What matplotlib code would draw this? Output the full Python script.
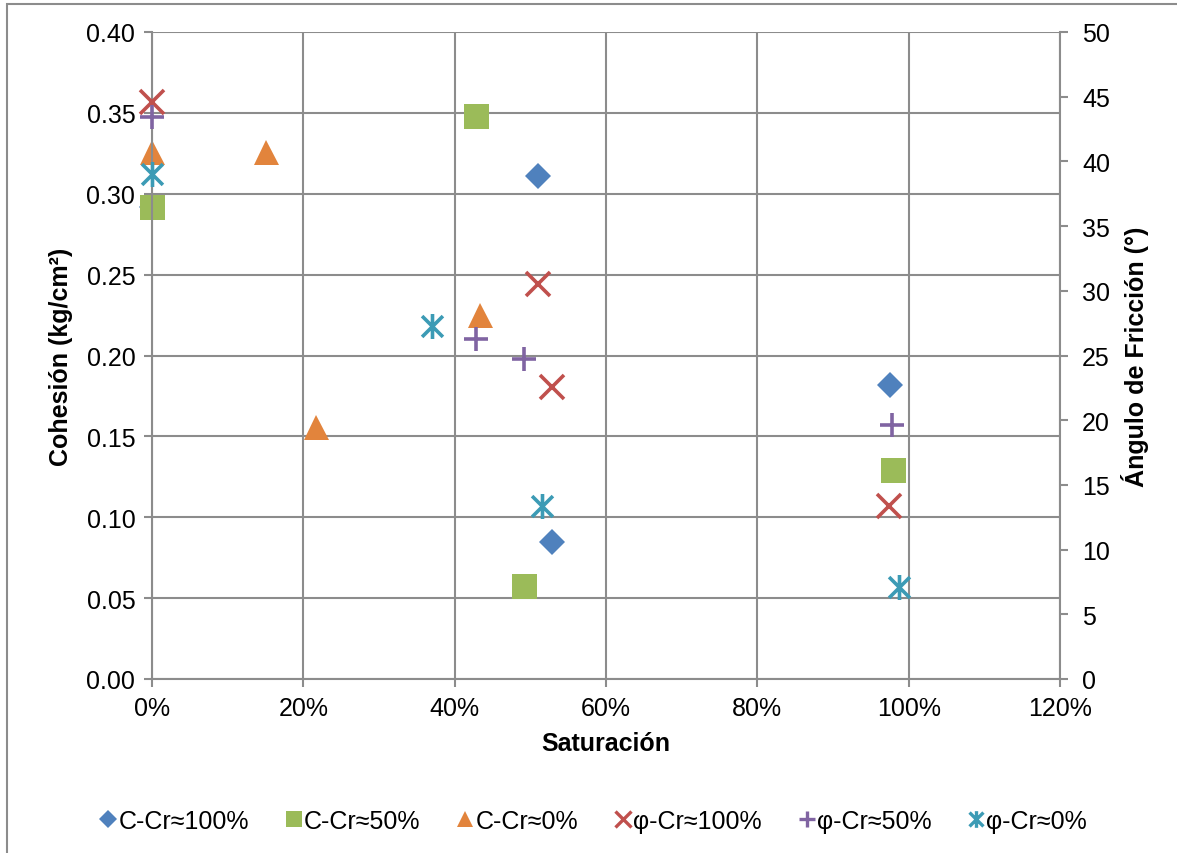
import matplotlib
matplotlib.use("Agg")
import matplotlib.pyplot as plt
from matplotlib.path import Path
from matplotlib.ticker import PercentFormatter, MultipleLocator
from matplotlib.lines import Line2D
from matplotlib.patches import Rectangle

plt.rcParams['font.family'] = ['Liberation Sans', 'DejaVu Sans']

# ---- data ----
sat_c100 = [0.0, 0.51, 0.529, 0.975]
coh_c100 = [0.292, 0.311, 0.085, 0.182]
sat_c50 = [0.0, 0.428, 0.492, 0.979]
coh_c50 = [0.292, 0.348, 0.0575, 0.129]
sat_c0 = [0.0, 0.151, 0.217, 0.433]
coh_c0 = [0.326, 0.326, 0.156, 0.225]

sat_p100 = [0.0, 0.51, 0.529, 0.974]
phi_p100 = [44.6, 30.5, 22.6, 13.4]
sat_p50 = [0.0, 0.428, 0.492, 0.978]
phi_p50 = [43.4, 26.3, 24.7, 19.6]
sat_p0 = [0.0, 0.370, 0.515, 0.987]
phi_p0 = [39.0, 27.3, 13.4, 7.1]

labels = ["C-Cr≈100%", "C-Cr≈50%", "C-Cr≈0%", "φ-Cr≈100%", "φ-Cr≈50%", "φ-Cr≈0%"]

# colors
c_blue = "#4F81BD"
c_green = "#9BBB59"
c_orange = "#E2843C"
c_red = "#C0504D"
c_purple = "#8064A2"
c_teal = "#3C9BB5"

# asterisk marker: X plus vertical bar
s = 0.5
star_path = Path(
    [(-s, -s), (s, s), (-s, s), (s, -s), (0, -0.6), (0, 0.6)],
    [Path.MOVETO, Path.LINETO, Path.MOVETO, Path.LINETO, Path.MOVETO, Path.LINETO],
)

fig = plt.figure(figsize=(11.77, 8.54), dpi=100)
ax = fig.add_axes([152 / 1177, 1 - 680 / 854, (1060 - 152) / 1177, (680 - 33) / 854])
ax2 = ax.twinx()

grid_c = "#8C8C8C"
for a in (ax, ax2):
    for sp in a.spines.values():
        sp.set_visible(False)

ax.set_xlim(0, 1.2)
ax.set_ylim(0, 0.40)
ax2.set_ylim(0, 50)
ax.xaxis.set_major_locator(MultipleLocator(0.2))
ax.xaxis.set_major_formatter(PercentFormatter(1.0, decimals=0))
ax.yaxis.set_major_locator(MultipleLocator(0.05))
ax.yaxis.set_major_formatter(matplotlib.ticker.FormatStrFormatter("%.2f"))
ax2.yaxis.set_major_locator(MultipleLocator(5))

ax.grid(True, color=grid_c, linewidth=1.5)
ax.set_axisbelow(True)

ax.spines['left'].set_visible(True)
ax.spines['bottom'].set_visible(True)
ax.spines['left'].set_color(grid_c)
ax.spines['bottom'].set_color(grid_c)
ax.spines['left'].set_linewidth(1.5)
ax.spines['bottom'].set_linewidth(1.5)
ax2.spines['right'].set_visible(True)
ax2.spines['right'].set_color(grid_c)
ax2.spines['right'].set_linewidth(1.5)

fs = 18
ax.tick_params(axis='both', colors=grid_c, labelcolor='black', labelsize=fs,
               length=6, width=1.5, direction='out', pad=6)
ax2.tick_params(axis='y', colors=grid_c, labelcolor='black', labelsize=fs,
                length=6, width=1.5, direction='out', pad=10)

ax.set_xlabel("Saturación", fontsize=fs, fontweight='bold', labelpad=8)
ax.set_ylabel("Cohesión (kg/cm²)", fontsize=fs, fontweight='bold', labelpad=10)
ax2.set_ylabel("Ángulo de Fricción (°)", fontsize=fs, fontweight='bold', labelpad=8)

ms = 18
kw = dict(linestyle='none', clip_on=False)
h1, = ax.plot(sat_c100, coh_c100, marker='D', markersize=13.5, color=c_blue, markeredgewidth=0, **kw)
h2, = ax.plot(sat_c50, coh_c50, marker='s', markersize=ms, color=c_green, markeredgewidth=0, **kw)
h3, = ax.plot(sat_c0, coh_c0, marker='^', markersize=ms, color=c_orange, markeredgewidth=0, **kw)
h4, = ax2.plot(sat_p100, phi_p100, marker='x', markersize=17, color=c_red, markeredgewidth=2.6, **kw)
h5, = ax2.plot(sat_p50, phi_p50, marker='+', markersize=17, color=c_purple, markeredgewidth=2.6, **kw)
h6, = ax2.plot(sat_p0, phi_p0, marker=star_path, markersize=18, color=c_teal, markeredgewidth=2.6,
               markerfacecolor='none', **kw)
ax.set_zorder(ax2.get_zorder() - 1)
ax2.patch.set_visible(False)

# legend
lh = [
    Line2D([], [], linestyle='none', marker='D', markersize=9, color=c_blue, markeredgewidth=0),
    Line2D([], [], linestyle='none', marker='s', markersize=12, color=c_green, markeredgewidth=0),
    Line2D([], [], linestyle='none', marker='^', markersize=12, color=c_orange, markeredgewidth=0),
    Line2D([], [], linestyle='none', marker='x', markersize=11, color=c_red, markeredgewidth=2.4),
    Line2D([], [], linestyle='none', marker='+', markersize=11, color=c_purple, markeredgewidth=2.4),
    Line2D([], [], linestyle='none', marker=star_path, markersize=12, color=c_teal, markeredgewidth=2.4,
           markerfacecolor='none'),
]
fig.legend(lh, labels, loc='center', bbox_to_anchor=(594 / 1177, 1 - 822 / 854), ncol=6,
           frameon=False, fontsize=fs, handlelength=0.6, handletextpad=0.1, columnspacing=1.5)

# outer chart border
fig.add_artist(Rectangle((7 / 1177, -0.1), 1.2, 1 - 5 / 854 + 0.1, transform=fig.transFigure,
                         fill=False, edgecolor='#8C8C8C', linewidth=1.5))

fig.savefig("out.png", dpi=100)
